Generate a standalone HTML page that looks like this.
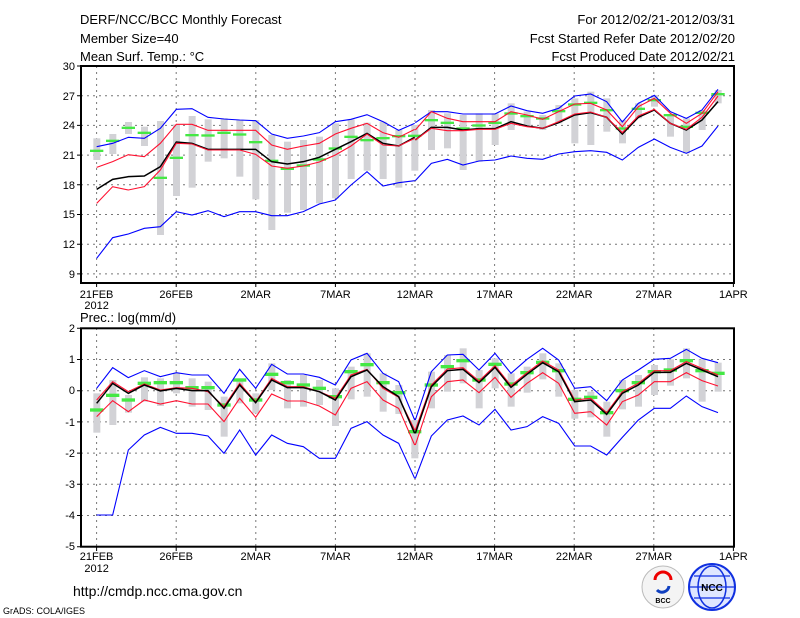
<!DOCTYPE html>
<html><head><meta charset="utf-8"><style>
html,body{margin:0;padding:0;background:#fff;}
svg{display:block;font-family:"Liberation Sans",sans-serif;}
.l{fill:none;vector-effect:non-scaling-stroke;stroke-linejoin:miter;}
.b{stroke:#0000ff;stroke-width:1.1}
.r{stroke:#ff1030;stroke-width:1.1}
.k{stroke:#000;stroke-width:1.5}
.g{fill:#d2d2d6}
.gr{fill:#44e844}
.grid{stroke:#777;stroke-width:1;stroke-dasharray:2,4;fill:none}
text{fill:#000}
</style></head><body>
<svg width="800" height="618" viewBox="0 0 800 618" xmlns="http://www.w3.org/2000/svg">
<rect width="800" height="618" fill="#fff"/>
<!-- header -->
<g font-size="13">
<text x="80" y="24">DERF/NCC/BCC Monthly Forecast</text>
<text x="80" y="43">Member Size=40</text>
<text x="80" y="61">Mean Surf. Temp.: °C</text>
<text x="735" y="24" text-anchor="end">For 2012/02/21-2012/03/31</text>
<text x="735" y="43" text-anchor="end">Fcst Started Refer Date 2012/02/20</text>
<text x="735" y="61" text-anchor="end">Fcst Produced Date 2012/02/21</text>
<text x="80" y="322">Prec.: log(mm/d)</text>
</g>
<!-- grids top -->
<g class="grid">
<path d="M81 95.7H734M81 125.4H734M81 155.1H734M81 184.8H734M81 214.5H734M81 244.2H734M81 273.9H734"/>
<path d="M96.6 66V283M176.2 66V283M255.8 66V283M335.4 66V283M415 66V283M494.6 66V283M574.2 66V283M653.8 66V283"/>
<path d="M81 359.5H734M81 390.7H734M81 421.9H734M81 453.1H734M81 484.3H734M81 515.5H734"/>
<path d="M96.6 328V547M176.2 328V547M255.8 328V547M335.4 328V547M415 328V547M494.6 328V547M574.2 328V547M653.8 328V547"/>
</g>
<!-- TOP data -->
<g transform="translate(60,60) scale(0.333333)">
<g class="g">
<rect x="100" y="235" width="21" height="65"/><rect x="148" y="222" width="21" height="60"/><rect x="195" y="186" width="21" height="36"/><rect x="243" y="200" width="21" height="58"/><rect x="291" y="183" width="21" height="342"/><rect x="339" y="193" width="21" height="215"/><rect x="386" y="168" width="21" height="215"/><rect x="434" y="178" width="21" height="127"/><rect x="482" y="175" width="21" height="120"/><rect x="529" y="180" width="21" height="170"/><rect x="577" y="180" width="21" height="238"/><rect x="625" y="225" width="21" height="285"/><rect x="672" y="245" width="21" height="213"/><rect x="720" y="240" width="21" height="210"/><rect x="768" y="230" width="21" height="200"/><rect x="816" y="190" width="21" height="225"/><rect x="863" y="178" width="21" height="179"/><rect x="911" y="188" width="21" height="144"/><rect x="959" y="185" width="21" height="172"/><rect x="1006" y="210" width="21" height="173"/><rect x="1054" y="195" width="21" height="137"/>
</g>
<g class="gr">
<rect x="90" y="269" width="40" height="7"/><rect x="138" y="239" width="40" height="7"/><rect x="185" y="200" width="40" height="7"/><rect x="233" y="215" width="40" height="7"/><rect x="281" y="350" width="40" height="7"/><rect x="329" y="290" width="40" height="7"/><rect x="376" y="222" width="40" height="7"/><rect x="424" y="223" width="40" height="7"/><rect x="472" y="215" width="40" height="7"/><rect x="519" y="220" width="40" height="7"/><rect x="567" y="243" width="40" height="7"/><rect x="615" y="299" width="40" height="7"/><rect x="662" y="323" width="40" height="7"/><rect x="710" y="313" width="40" height="7"/><rect x="758" y="295" width="40" height="7"/><rect x="806" y="262" width="40" height="7"/><rect x="853" y="227" width="40" height="7"/><rect x="901" y="237" width="40" height="7"/><rect x="949" y="231" width="40" height="7"/><rect x="996" y="225" width="40" height="7"/><rect x="1044" y="224" width="40" height="7"/>
</g>
<polyline class="l b" points="110,260 158,250 205,232 253,235 301,205 349,148 396,146 444,172 492,177 539,180 587,182 635,222 682,235 730,228 778,218 826,185 873,178 921,164 969,185 1016,211 1064,190"/>
<polyline class="l r" points="110,322 158,305 205,284 253,290 301,250 349,193 396,193 444,211 492,211 539,211 587,211 635,255 682,268 730,258 778,250 826,222 873,205 921,190 969,218 1016,232 1064,208"/>
<polyline class="l k" points="110,388 158,358 205,350 253,348 301,320 349,246 396,250 444,268 492,268 539,268 587,268 635,305 682,312 730,305 778,292 826,268 873,245 921,220 969,250 1016,258 1064,232"/>
<polyline class="l r" points="110,430 158,380 205,390 253,380 301,330 349,250 396,252 444,270 492,270 539,270 587,283 635,318 682,325 730,318 778,306 826,285 873,258 921,222 969,255 1016,258 1064,235"/>
<polyline class="l b" points="110,595 158,533 205,522 253,505 301,500 349,455 396,465 444,452 492,470 539,455 587,455 635,467 682,467 730,455 778,432 826,420 873,375 921,335 969,378 1016,368 1064,362"/>
</g>
<g transform="translate(400,60) scale(0.333333)">
<g class="g">
<rect x="84" y="150" width="21" height="120"/><rect x="132" y="160" width="21" height="105"/><rect x="179" y="165" width="21" height="165"/><rect x="227" y="160" width="21" height="145"/><rect x="275" y="160" width="21" height="95"/><rect x="323" y="130" width="21" height="80"/><rect x="371" y="155" width="21" height="40"/><rect x="418" y="165" width="21" height="45"/><rect x="466" y="135" width="21" height="55"/><rect x="514" y="115" width="21" height="135"/><rect x="562" y="95" width="21" height="160"/><rect x="610" y="115" width="21" height="100"/><rect x="657" y="180" width="21" height="70"/><rect x="705" y="130" width="21" height="45"/><rect x="753" y="105" width="21" height="35"/><rect x="801" y="165" width="21" height="65"/><rect x="849" y="175" width="21" height="105"/><rect x="896" y="150" width="21" height="60"/><rect x="944" y="90" width="21" height="40"/>
</g>
<g class="gr">
<rect x="74" y="177" width="40" height="7"/><rect x="122" y="185" width="40" height="7"/><rect x="169" y="202" width="40" height="7"/><rect x="217" y="193" width="40" height="7"/><rect x="265" y="185" width="40" height="7"/><rect x="313" y="157" width="40" height="7"/><rect x="361" y="165" width="40" height="7"/><rect x="408" y="172" width="40" height="7"/><rect x="456" y="150" width="40" height="7"/><rect x="504" y="130" width="40" height="7"/><rect x="552" y="125" width="40" height="7"/><rect x="600" y="147" width="40" height="7"/><rect x="647" y="202" width="40" height="7"/><rect x="695" y="143" width="40" height="7"/><rect x="743" y="117" width="40" height="7"/><rect x="791" y="162" width="40" height="7"/><rect x="839" y="197" width="40" height="7"/><rect x="886" y="155" width="40" height="7"/><rect x="934" y="99" width="40" height="7"/>
</g>
<polyline class="l b" points="46,188 94,155 142,155 189,162 237,162 285,162 333,138 381,152 428,160 476,145 524,108 572,102 620,125 667,186 715,130 763,106 811,155 859,175 906,150 954,88"/>
<polyline class="l r" points="46,210 94,155 142,175 189,185 237,185 285,185 333,155 381,165 428,178 476,155 524,132 572,130 620,150 667,200 715,140 763,115 811,160 859,190 906,160 954,95"/>
<polyline class="l k" points="46,240 94,202 142,202 189,210 237,206 285,206 333,185 381,198 428,205 476,188 524,165 572,158 620,172 667,222 715,172 763,150 811,190 859,210 906,180 954,125"/>
<polyline class="l r" points="46,240 94,205 142,212 189,212 237,208 285,208 333,190 381,200 428,205 476,185 524,162 572,156 620,172 667,218 715,168 763,148 811,190 859,208 906,172 954,108"/>
<polyline class="l b" points="46,362 94,310 142,298 189,315 237,303 285,300 333,288 381,295 428,298 476,282 524,275 572,272 620,277 667,300 715,262 763,237 811,262 859,280 906,258 954,198"/>
</g>
<!-- BOTTOM data -->
<g transform="translate(60,320) scale(0.333333)">
<g class="g">
<rect x="100" y="220" width="21" height="118"/><rect x="148" y="180" width="21" height="135"/><rect x="195" y="225" width="21" height="53"/><rect x="243" y="172" width="21" height="73"/><rect x="291" y="175" width="21" height="83"/><rect x="339" y="160" width="21" height="60"/><rect x="386" y="175" width="21" height="85"/><rect x="434" y="185" width="21" height="85"/><rect x="482" y="230" width="21" height="120"/><rect x="529" y="175" width="21" height="75"/><rect x="577" y="220" width="21" height="60"/><rect x="625" y="130" width="21" height="80"/><rect x="672" y="180" width="21" height="85"/><rect x="720" y="165" width="21" height="95"/><rect x="768" y="180" width="21" height="75"/><rect x="816" y="205" width="21" height="113"/><rect x="863" y="140" width="21" height="98"/><rect x="911" y="100" width="21" height="130"/><rect x="959" y="160" width="21" height="115"/><rect x="1006" y="195" width="21" height="87"/><rect x="1054" y="300" width="21" height="115"/>
</g>
<g class="gr">
<rect x="90" y="265" width="40" height="10"/><rect x="138" y="221" width="40" height="10"/><rect x="185" y="235" width="40" height="10"/><rect x="233" y="185" width="40" height="10"/><rect x="281" y="183" width="40" height="10"/><rect x="329" y="183" width="40" height="10"/><rect x="376" y="198" width="40" height="10"/><rect x="424" y="198" width="40" height="10"/><rect x="472" y="250" width="40" height="10"/><rect x="519" y="175" width="40" height="10"/><rect x="567" y="235" width="40" height="10"/><rect x="615" y="158" width="40" height="10"/><rect x="662" y="183" width="40" height="10"/><rect x="710" y="190" width="40" height="10"/><rect x="758" y="200" width="40" height="10"/><rect x="806" y="225" width="40" height="10"/><rect x="853" y="150" width="40" height="10"/><rect x="901" y="129" width="40" height="10"/><rect x="949" y="183" width="40" height="10"/><rect x="996" y="213" width="40" height="10"/><rect x="1044" y="330" width="40" height="10"/>
</g>
<polyline class="l b" points="110,205 158,143 205,173 253,152 301,170 349,158 396,165 444,165 492,220 539,148 587,205 635,133 682,162 730,162 778,172 826,195 873,120 921,100 969,160 1016,185 1064,300"/>
<polyline class="l r" points="110,240 158,185 205,215 253,192 301,210 349,203 396,205 444,215 492,260 539,190 587,245 635,175 682,200 730,200 778,215 826,235 873,165 921,148 969,205 1016,232 1064,330"/>
<polyline class="l k" points="110,250 158,190 205,220 253,195 301,213 349,205 396,212 444,212 492,265 539,195 587,248 635,180 682,203 730,203 778,215 826,240 873,170 921,150 969,200 1016,230 1064,340"/>
<polyline class="l r" points="110,290 158,242 205,275 253,240 301,252 349,242 396,252 444,252 492,305 539,235 587,292 635,222 682,243 730,243 778,258 826,285 873,205 921,185 969,240 1016,265 1064,375"/>
<polyline class="l b" points="110,585 158,585 205,390 253,345 301,322 349,340 396,340 444,348 492,400 539,330 587,405 635,345 682,370 730,380 778,415 826,415 873,325 921,305 969,345 1016,370 1064,475"/>
</g>
<g transform="translate(400,320) scale(0.333333)">
<g class="g">
<rect x="84" y="155" width="21" height="110"/><rect x="132" y="105" width="21" height="110"/><rect x="179" y="85" width="21" height="105"/><rect x="227" y="150" width="21" height="115"/><rect x="275" y="115" width="21" height="90"/><rect x="323" y="160" width="21" height="100"/><rect x="371" y="140" width="21" height="78"/><rect x="418" y="100" width="21" height="78"/><rect x="466" y="130" width="21" height="100"/><rect x="514" y="210" width="21" height="86"/><rect x="562" y="215" width="21" height="77"/><rect x="610" y="245" width="21" height="105"/><rect x="657" y="180" width="21" height="88"/><rect x="705" y="165" width="21" height="95"/><rect x="753" y="135" width="21" height="90"/><rect x="801" y="118" width="21" height="79"/><rect x="849" y="85" width="21" height="90"/><rect x="896" y="118" width="21" height="127"/><rect x="944" y="128" width="21" height="87"/>
</g>
<g class="gr">
<rect x="74" y="190" width="40" height="10"/><rect x="122" y="135" width="40" height="10"/><rect x="169" y="117" width="40" height="10"/><rect x="217" y="175" width="40" height="10"/><rect x="265" y="128" width="40" height="10"/><rect x="313" y="187" width="40" height="10"/><rect x="361" y="153" width="40" height="10"/><rect x="408" y="122" width="40" height="10"/><rect x="456" y="147" width="40" height="10"/><rect x="504" y="233" width="40" height="10"/><rect x="552" y="227" width="40" height="10"/><rect x="600" y="273" width="40" height="10"/><rect x="647" y="207" width="40" height="10"/><rect x="695" y="183" width="40" height="10"/><rect x="743" y="150" width="40" height="10"/><rect x="791" y="145" width="40" height="10"/><rect x="839" y="117" width="40" height="10"/><rect x="886" y="147" width="40" height="10"/><rect x="934" y="155" width="40" height="10"/>
</g>
<polyline class="l b" points="46,300 94,155 142,105 189,103 237,150 285,100 333,160 381,118 428,85 476,120 524,205 572,200 620,242 667,180 715,150 763,118 811,115 859,88 906,115 954,128"/>
<polyline class="l r" points="46,330 94,195 142,147 189,143 237,183 285,137 333,197 381,158 428,123 476,150 524,240 572,235 620,278 667,215 715,190 763,152 811,152 859,125 906,145 954,165"/>
<polyline class="l k" points="46,340 94,200 142,152 189,148 237,188 285,142 333,202 381,163 428,128 476,155 524,245 572,240 620,283 667,220 715,195 763,157 811,157 859,130 906,150 954,170"/>
<polyline class="l r" points="46,375 94,230 142,185 189,180 237,218 285,172 333,232 381,190 428,158 476,190 524,280 572,275 620,315 667,245 715,225 763,185 811,185 859,158 906,182 954,198"/>
<polyline class="l b" points="46,475 94,348 142,300 189,288 237,315 285,268 333,330 381,320 428,290 476,310 524,378 572,378 620,405 667,352 715,300 763,265 811,265 859,228 906,260 954,278"/>
</g>
<!-- axes boxes -->
<rect x="81" y="66" width="653" height="217" fill="none" stroke="#000" stroke-width="2"/>
<rect x="81" y="328.3" width="653" height="218.4" fill="none" stroke="#000" stroke-width="2"/>
<g stroke="#000" stroke-width="1">
<path d="M77 66H81M77 95.7H81M77 125.4H81M77 155.1H81M77 184.8H81M77 214.5H81M77 244.2H81M77 273.9H81"/>
<path d="M77 328.3H81M77 359.5H81M77 390.7H81M77 421.9H81M77 453.1H81M77 484.3H81M77 515.5H81M77 546.7H81"/>
<path d="M96.6 283V287M176.2 283V287M255.8 283V287M335.4 283V287M415 283V287M494.6 283V287M574.2 283V287M653.8 283V287M733.4 283V287"/>
<path d="M96.6 547V551M176.2 547V551M255.8 547V551M335.4 547V551M415 547V551M494.6 547V551M574.2 547V551M653.8 547V551M733.4 547V551"/>
</g>
<g font-size="11" text-anchor="end">
<text x="75" y="70">30</text><text x="75" y="100">27</text><text x="75" y="129">24</text><text x="75" y="159">21</text><text x="75" y="189">18</text><text x="75" y="218">15</text><text x="75" y="248">12</text><text x="75" y="278">9</text>
<text x="75" y="332">2</text><text x="75" y="363">1</text><text x="75" y="394">0</text><text x="75" y="426">-1</text><text x="75" y="457">-2</text><text x="75" y="488">-3</text><text x="75" y="519">-4</text><text x="75" y="550">-5</text>
</g>
<g font-size="11" text-anchor="middle">
<text x="96.6" y="298">21FEB</text><text x="96.6" y="309">2012</text><text x="176.2" y="298">26FEB</text><text x="255.8" y="298">2MAR</text><text x="335.4" y="298">7MAR</text><text x="415" y="298">12MAR</text><text x="494.6" y="298">17MAR</text><text x="574.2" y="298">22MAR</text><text x="653.8" y="298">27MAR</text><text x="733.4" y="298">1APR</text>
<text x="96.6" y="560">21FEB</text><text x="96.6" y="572">2012</text><text x="176.2" y="560">26FEB</text><text x="255.8" y="560">2MAR</text><text x="335.4" y="560">7MAR</text><text x="415" y="560">12MAR</text><text x="494.6" y="560">17MAR</text><text x="574.2" y="560">22MAR</text><text x="653.8" y="560">27MAR</text><text x="733.4" y="560">1APR</text>
</g>
<text x="73" y="596" font-size="14">http://cmdp.ncc.cma.gov.cn</text>
<text x="3" y="614" font-size="9">GrADS: COLA/IGES</text>
<!-- logos -->
<circle cx="663" cy="587" r="21" fill="#f4f4f4" stroke="#bbb"/>
<path d="M655 580a8 8 0 1 1 16 0" fill="none" stroke="#e00" stroke-width="3"/>
<path d="M657 590a7 7 0 0 0 12 -4" fill="none" stroke="#1040c0" stroke-width="3"/>
<text x="663" y="603" font-size="7" text-anchor="middle" font-weight="bold">BCC</text>
<circle cx="712" cy="587" r="23" fill="#dfe6ff" stroke="#1030e0" stroke-width="2"/>
<ellipse cx="712" cy="587" rx="14" ry="21" fill="none" stroke="#1030e0" stroke-width="1.5"/>
<path d="M690 587H734M694 576H730M694 598H730" stroke="#1030e0" stroke-width="1.2"/>
<text x="712" y="591" font-size="10" text-anchor="middle" fill="#1030e0" font-weight="bold">NCC</text>
</svg>
</body></html>
